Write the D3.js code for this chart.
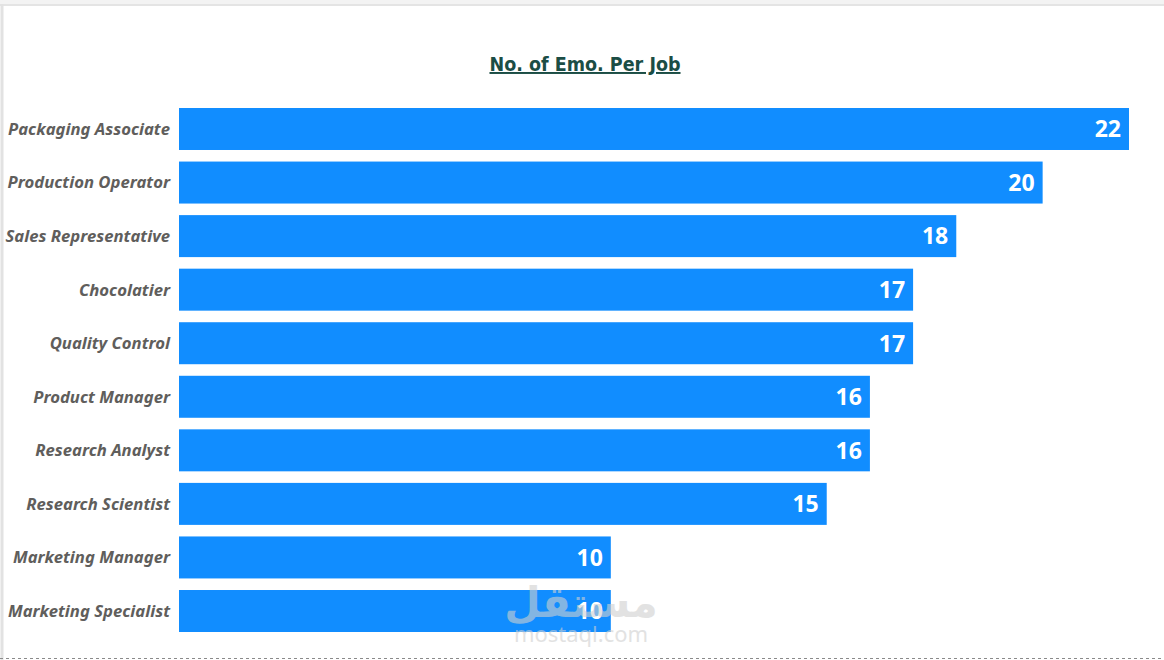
<!DOCTYPE html>
<html>
<head>
<meta charset="utf-8">
<script src="https://cdn.jsdelivr.net/npm/d3@7"></script>
<style>
  html, body { margin: 0; padding: 0; background: #fff; }
  svg { display: block; }
</style>
</head>
<body>
<svg id="chart" width="1164" height="660"></svg>
<script>
const categories = ["Packaging Associate", "Production Operator", "Sales Representative", "Chocolatier",
  "Quality Control", "Product Manager", "Research Analyst", "Research Scientist",
  "Marketing Manager", "Marketing Specialist"];
const values = [22, 20, 18, 17, 17, 16, 16, 15, 10, 10];
const titleText = "No. of Emo. Per Job";

const svg = d3.select("#chart");
const W = 1164, H = 660;

// frame
svg.append("rect").attr("x", 0).attr("y", 0).attr("width", W).attr("height", 4).attr("fill", "#f3f3f3");
svg.append("line").attr("x1", 0).attr("x2", W).attr("y1", 5).attr("y2", 5).attr("stroke", "#e4e4e4").attr("stroke-width", 2);
svg.append("line").attr("x1", 2).attr("x2", 2).attr("y1", 4).attr("y2", H).attr("stroke", "#e2e2e2").attr("stroke-width", 3);
svg.append("line").attr("x1", 0).attr("x2", W).attr("y1", 658.5).attr("y2", 658.5)
  .attr("stroke", "#8a8a8a").attr("stroke-width", 1).attr("stroke-dasharray", "3,3");

const x = d3.scaleLinear().domain([0, 22]).range([179, 1129]);
const y = d3.scaleBand().domain(categories).range([108, 632]).paddingInner(0.216).paddingOuter(0);

// title
svg.append("text").attr("x", 585).attr("y", 71).attr("text-anchor", "middle")
  .attr("font-family", "'DejaVu Sans Condensed', 'DejaVu Sans', sans-serif").attr("font-weight", "bold")
  .attr("font-size", 19.5).attr("fill", "#1b4d45").attr("text-decoration", "underline")
  .text(titleText);

const g = svg.append("g");
g.selectAll("rect.bar").data(values).join("rect").attr("class", "bar")
  .attr("x", x(0)).attr("y", (d, i) => y(categories[i]))
  .attr("width", d => x(d) - x(0)).attr("height", y.bandwidth())
  .attr("fill", "#118DFF");

g.selectAll("text.cat").data(categories).join("text").attr("class", "cat")
  .attr("x", 170).attr("y", d => y(d) + y.bandwidth() / 2).attr("dy", "0.35em")
  .attr("text-anchor", "end")
  .attr("font-family", "'Noto Sans', 'Open Sans', sans-serif").attr("font-weight", "bold").attr("font-style", "italic")
  .attr("font-size", 16.7).attr("fill", "#605e5c")
  .text(d => d);

g.selectAll("text.val").data(values).join("text").attr("class", "val")
  .attr("x", d => x(d) - 8).attr("y", (d, i) => y(categories[i]) + y.bandwidth() / 2).attr("dy", "0.36em")
  .attr("text-anchor", "end")
  .attr("font-family", "'Open Sans', 'Noto Sans', sans-serif").attr("font-weight", "bold")
  .attr("font-size", 23).attr("fill", "#ffffff")
  .text(d => d);

// watermark
svg.append("text").attr("x", 581).attr("y", 617).attr("text-anchor", "middle")
  .attr("font-family", "'Noto Sans', 'DejaVu Sans', sans-serif").attr("font-weight", "bold")
  .attr("font-size", 42).attr("fill", "#d0d0d0").attr("opacity", 0.6).text("مستقل");
svg.append("text").attr("x", 581).attr("y", 642).attr("text-anchor", "middle")
  .attr("font-family", "'Noto Sans', 'DejaVu Sans', sans-serif")
  .attr("font-size", 22).attr("fill", "#d0d0d0").attr("opacity", 0.6).text("mostaql.com");
</script>
</body>
</html>
